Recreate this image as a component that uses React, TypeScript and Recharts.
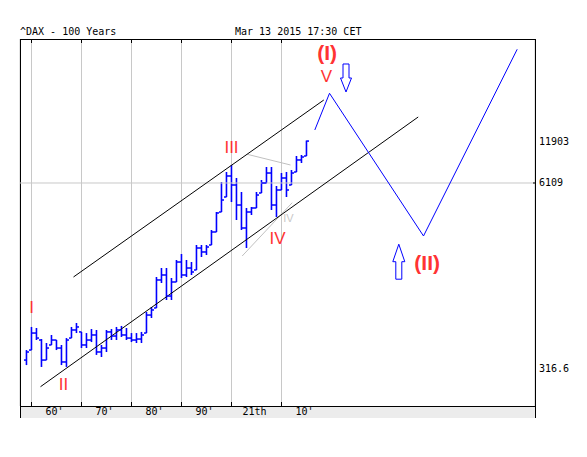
import React from "react";
import {
  ComposedChart,
  Bar,
  Scatter,
  Line,
  XAxis,
  YAxis,
  CartesianGrid,
  ReferenceLine,
  ReferenceDot,
  Customized,
} from "recharts";

// yearly OHLC of the DAX
const years = [
  1959, 1960, 1961, 1962, 1963, 1964, 1965, 1966, 1967, 1968, 1969, 1970, 1971, 1972, 1973, 1974, 1975, 1976, 1977,
  1978, 1979, 1980, 1981, 1982, 1983, 1984, 1985, 1986, 1987, 1988, 1989, 1990, 1991, 1992, 1993, 1994, 1995, 1996,
  1997, 1998, 1999, 2000, 2001, 2002, 2003, 2004, 2005, 2006, 2007, 2008, 2009, 2010, 2011, 2012, 2013, 2014, 2015,
];
const opens = [
  365, 428, 561, 502, 365, 464, 502, 442, 354, 518, 589, 571, 464, 502, 544, 415, 442, 571, 535,
  589, 544, 518, 502, 510, 561, 747, 836, 1305, 1413, 1011, 1264, 1737, 1413, 1579, 1530, 2171, 2038, 2277,
  2801, 3850, 4888, 6829, 5916, 4303, 2985, 3850, 4103, 5209, 6107, 7160, 4303, 5464, 6614, 5916, 7275, 8810, 9386,
];
const highs = [
  428, 618, 608, 510, 479, 544, 502, 464, 518, 618, 658, 571, 561, 598, 589, 464, 589, 598, 618,
  628, 608, 561, 561, 571, 784, 849, 1369, 1579, 1579, 1347, 1794, 1974, 1794, 1737, 2277, 2277, 2277, 2892,
  3850, 6205, 7275, 8135, 6614, 5293, 4103, 4169, 5293, 6406, 7880, 7880, 5823, 7160, 7275, 7512, 9386, 9537, 12000,
];
const lows = [
  337, 428, 502, 327, 365, 464, 428, 337, 327, 518, 561, 442, 442, 486, 396, 383, 415, 502, 502,
  527, 502, 486, 479, 479, 561, 713, 836, 1244, 949, 949, 1264, 1347, 1369, 1413, 1530, 1882, 1943, 2277,
  2801, 3850, 4888, 4513, 3390, 2892, 2171, 3671, 4103, 5209, 6107, 3975, 3556, 5464, 4888, 5916, 7275, 8398, 9386,
];
const closes = [
  415, 561, 518, 365, 442, 502, 442, 354, 502, 589, 618, 464, 502, 544, 415, 442, 571, 535, 589,
  544, 518, 502, 510, 544, 747, 810, 1305, 1413, 1011, 1264, 1737, 1413, 1579, 1482, 2171, 2038, 2206, 2801,
  3790, 4660, 6829, 5916, 4303, 2985, 3850, 4103, 5046, 6107, 7160, 4303, 5464, 6614, 5464, 7160, 8810, 9238, 11903,
];

// channel, projection and helper lines (year, price)
const upperChannel = [
  { year: 1968.4, v: 1369 },
  { year: 2018.46, v: 22880 },
];
const lowerChannel = [
  { year: 1961.8, v: 238.8 },
  { year: 2037.34, v: 17460 },
];
const projection = [
  { year: 2016.66, v: 14200 },
  { year: 2019.6, v: 25460 },
  { year: 2038.4, v: 2628 },
  { year: 2057.14, v: 51280 },
];
const grayTop = [
  { year: 2003.14, v: 9645 },
  { year: 2011.8, v: 8135 },
];
const grayBottom = [
  { year: 2002.14, v: 1912 },
  { year: 2012.14, v: 4463 },
];

// wave labels
const minorWaves = [
  { text: "I", year: 1960, v: 842 },
  { text: "II", year: 1966.4, v: 249 },
  { text: "III", year: 2000, v: 10746 },
  { text: "IV", year: 2009.2, v: 2506 },
  { text: "V", year: 2019, v: 33520 },
];
const majorWaves = [
  { text: "(I)", year: 2019.14, v: 48730 },
  { text: "(II)", year: 2039.14, v: 1737 },
];
const subWave = { text: "IV", year: 2011.4, v: 3499 };
const downArrow = { year: 2022.9, v: 32480 };
const upArrow = { year: 2033.46, v: 1746 };

const decadeTicks = [1960, 1970, 1980, 1990, 2000, 2010];
const decadeLabels = ["60'", "70'", "80'", "90'", "21th", "10'"];
const priceTicks = [316.6, 6109, 11903];

const data = years.map((year, i) => ({
  year,
  open: opens[i],
  high: highs[i],
  low: lows[i],
  close: closes[i],
}));

const BLUE = "#0000ff";
const RED = "#ff3333";
const MONO = "'DejaVu Sans Mono', monospace";
const PLOT_TOP = 31;

const BottomTick = (props: any) => {
  const { x, y, payload } = props;
  const i = decadeTicks.indexOf(payload.value);
  return (
    <g>
      <line x1={x} x2={x} y1={y} y2={y - 4} stroke="#000" />
      <line x1={x} x2={x} y1={PLOT_TOP} y2={PLOT_TOP + 4} stroke="#000" />
      <text x={x + 23} y={y + 9} textAnchor="middle" fontFamily={MONO} fontSize={10} fill="#000">
        {decadeLabels[i]}
      </text>
    </g>
  );
};

const RightTick = (props: any) => {
  const { x, y, payload } = props;
  return (
    <g>
      {payload.value === 6109 && <line x1={x - 2} x2={x} y1={y} y2={y} stroke="#000" />}
      <text x={x + 4} y={y + 3.5} fontFamily={MONO} fontSize={10} fill="#000">
        {payload.value}
      </text>
    </g>
  );
};

const HighLow = (p: any) => {
  const cx = p.x + p.width / 2;
  return <line x1={cx} x2={cx} y1={p.y} y2={p.y + p.height} stroke={BLUE} strokeWidth={1.6} />;
};
const OpenTick = (p: any) => (
  <line x1={p.cx - 2.5} x2={p.cx} y1={p.cy} y2={p.cy} stroke={BLUE} strokeWidth={1.5} />
);
const CloseTick = (p: any) => (
  <line x1={p.cx} x2={p.cx + 2.5} y1={p.cy} y2={p.cy} stroke={BLUE} strokeWidth={1.5} />
);

const textShape = (text: string, fill: string, size: number, weight: string | number) => (p: any) => (
  <text
    x={p.cx}
    y={p.cy}
    textAnchor="middle"
    dominantBaseline="central"
    fontFamily="'Liberation Sans', Arial, sans-serif"
    fontSize={size}
    fontWeight={weight}
    fill={fill}
  >
    {text}
  </text>
);

const DownArrowShape = (p: any) => {
  const { cx, cy } = p;
  const pts = [
    [-3, -14], [3, -14], [3, 0], [5.5, 0], [0, 14], [-5.5, 0], [-3, 0],
  ].map(([dx, dy]) => `${cx + dx},${cy + dy}`).join(" ");
  return <polygon points={pts} fill="none" stroke={BLUE} strokeWidth={1} />;
};
const UpArrowShape = (p: any) => {
  const { cx, cy } = p;
  const pts = [
    [0, -17.5], [6, 0], [3, 0], [3, 17.5], [-3, 17.5], [-3, 0], [-6, 0],
  ].map(([dx, dy]) => `${cx + dx},${cy + dy}`).join(" ");
  return <polygon points={pts} fill="none" stroke={BLUE} strokeWidth={1} />;
};

const Frame = () => (
  <g>
    <rect x={12} y={398} width={515} height={12} fill="#ececec" />
    <line x1={12} x2={528} y1={31.5} y2={31.5} stroke="#000" />
    <line x1={12.5} x2={12.5} y1={31} y2={410} stroke="#000" />
    <line x1={527.5} x2={527.5} y1={31} y2={410} stroke="#000" />
    <line x1={12} x2={528} y1={398.5} y2={398.5} stroke="#000" />
    <text x={12} y={27} fontFamily={MONO} fontSize={10} fill="#000">
      ^DAX - 100 Years
    </text>
    <text x={227} y={27} fontFamily={MONO} fontSize={10} fill="#000">
      Mar 13 2015 17:30 CET
    </text>
  </g>
);

export default function App() {
  return (
    <ComposedChart
      width={571}
      height={430}
      data={data}
      margin={{ top: PLOT_TOP, right: 0, left: 12, bottom: 21 }}
    >
      <CartesianGrid xAxisId="b" yAxisId="p" horizontal={false} stroke="#c8c8c8" />
      <XAxis
        xAxisId="b"
        dataKey="year"
        type="number"
        domain={[1957.7, 2060.7]}
        allowDataOverflow
        ticks={decadeTicks}
        height={11}
        tickSize={0}
        tickMargin={0}
        axisLine={false}
        tickLine={false}
        tick={<BottomTick />}
        interval={0}
      />
      <YAxis
        yAxisId="p"
        orientation="right"
        scale="log"
        domain={[175.7, 60400]}
        allowDataOverflow
        ticks={priceTicks}
        width={44}
        tickSize={0}
        tickMargin={0}
        axisLine={false}
        tickLine={false}
        tick={<RightTick />}
        interval={0}
      />
      <ReferenceLine xAxisId="b" yAxisId="p" y={6109} stroke="#c8c8c8" />

      <Line xAxisId="b" yAxisId="p" data={grayTop} dataKey="v" stroke="#c0c0c0" strokeWidth={1} dot={false} isAnimationActive={false} />
      <Line xAxisId="b" yAxisId="p" data={grayBottom} dataKey="v" stroke="#c0c0c0" strokeWidth={1} dot={false} isAnimationActive={false} />
      <Line xAxisId="b" yAxisId="p" data={upperChannel} dataKey="v" stroke="#000" strokeWidth={1} dot={false} isAnimationActive={false} />
      <Line xAxisId="b" yAxisId="p" data={lowerChannel} dataKey="v" stroke="#000" strokeWidth={1} dot={false} isAnimationActive={false} />

      <Bar
        xAxisId="b"
        yAxisId="p"
        dataKey={(d: any) => [d.low, d.high]}
        barSize={2}
        shape={HighLow}
        isAnimationActive={false}
      />
      <Scatter xAxisId="b" yAxisId="p" dataKey="open" shape={OpenTick} isAnimationActive={false} />
      <Scatter xAxisId="b" yAxisId="p" dataKey="close" shape={CloseTick} isAnimationActive={false} />

      <Line xAxisId="b" yAxisId="p" data={projection} dataKey="v" stroke={BLUE} strokeWidth={1} dot={false} isAnimationActive={false} />

      {minorWaves.map((w) => (
        <ReferenceDot key={w.text + w.year} xAxisId="b" yAxisId="p" x={w.year} y={w.v} r={0} shape={textShape(w.text, RED, 17, 400)} />
      ))}
      {majorWaves.map((w) => (
        <ReferenceDot key={w.text} xAxisId="b" yAxisId="p" x={w.year} y={w.v} r={0} shape={textShape(w.text, RED, 21, 700)} />
      ))}
      <ReferenceDot xAxisId="b" yAxisId="p" x={subWave.year} y={subWave.v} r={0} shape={textShape(subWave.text, "#c8c8c8", 11, 400)} />
      <ReferenceDot xAxisId="b" yAxisId="p" x={downArrow.year} y={downArrow.v} r={0} shape={DownArrowShape} />
      <ReferenceDot xAxisId="b" yAxisId="p" x={upArrow.year} y={upArrow.v} r={0} shape={UpArrowShape} />

      <Customized component={Frame} />
    </ComposedChart>
  );
}
